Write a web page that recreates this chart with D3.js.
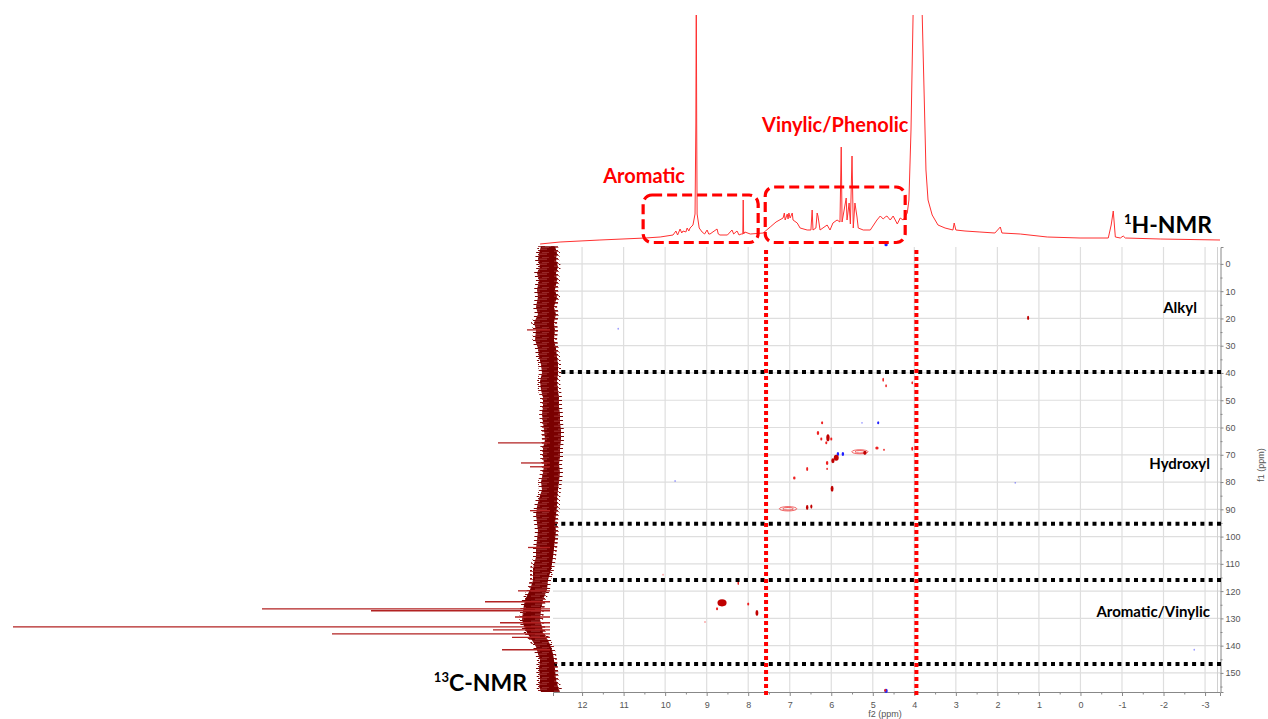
<!DOCTYPE html>
<html lang="en">
<head>
<meta charset="UTF-8">
<title>HSQC with 1H and 13C projections</title>
<script src="https://cdn.jsdelivr.net/npm/d3@7/dist/d3.min.js"></script>
<style>
  body { margin: 0; background: #fff; }
  svg { display: block; }
  .tick text { font-family: "Liberation Sans", Arial, sans-serif; font-size: 9px; fill: #555; }
  .tick line, .domain { stroke: #888; }
</style>
</head>
<body>
<script>
// axis ticks (ppm)
const f2Ticks = d3.range(12, -4, -1);
const f1Ticks = d3.range(0, 151, 10);

// 1H projection on top: [ppm, intensity]
const hSpectrum = [
  [13.01, 0], [12.53, 2], [11.57, 4], [10.48, 6], [10.12, 7], [9.81, 9], [9.74, 13], [9.70, 9],
  [9.64, 15], [9.60, 11], [9.57, 13], [9.50, 12], [9.47, 16], [9.43, 13], [9.40, 16], [9.33, 19],
  [9.28, 30], [9.26, 120], [9.25, 260], [9.24, 120], [9.23, 30], [9.18, 16], [9.11, 12], [9.05, 10],
  [8.99, 14], [8.95, 10], [8.92, 10], [8.75, 15], [8.72, 10], [8.68, 9], [8.50, 9], [8.39, 14],
  [8.35, 10], [8.27, 13], [8.22, 9], [8.17, 10], [8.13, 10], [8.12, 44], [8.11, 10], [8.08, 12],
  [7.95, 10], [7.64, 11], [7.47, 17], [7.33, 22], [7.16, 26], [7.13, 31], [7.11, 24], [7.06, 30],
  [7.04, 25], [7.02, 31], [6.99, 26], [6.94, 31], [6.92, 24], [6.82, 21], [6.75, 16], [6.58, 14],
  [6.49, 14], [6.46, 34], [6.44, 14], [6.37, 16], [6.34, 31], [6.32, 28], [6.27, 14], [6.10, 19],
  [6.03, 14], [5.96, 21], [5.86, 24], [5.79, 22], [5.76, 97], [5.74, 22], [5.64, 46], [5.62, 24],
  [5.57, 41], [5.54, 20], [5.50, 88], [5.47, 16], [5.43, 41], [5.38, 27], [5.35, 16], [5.23, 14],
  [5.06, 14], [4.90, 24], [4.82, 28], [4.75, 25], [4.70, 27], [4.66, 28], [4.58, 24], [4.51, 28],
  [4.41, 20], [4.34, 26], [4.27, 24], [4.17, 31], [4.13, 44], [4.08, 114], [4.05, 184], [4.03, 229],
  [3.93, 300], [3.81, 229], [3.76, 144], [3.72, 74], [3.67, 44], [3.57, 29], [3.43, 19], [3.26, 16],
  [3.07, 14], [3.04, 21], [3.00, 14], [2.78, 13], [2.42, 12], [2.06, 11], [1.93, 17], [1.89, 11],
  [1.45, 10], [0.80, 7], [0.01, 6], [-0.67, 6], [-0.74, 19], [-0.79, 33], [-0.84, 7], [-0.96, 6],
  [-1.03, 8], [-1.08, 6], [-1.92, 5], [-3.36, 4]
];

// 13C projection on the left: noise band [ppm, outer, inner] and sharp lines [ppm, intensity]
const cNoise = [
  [-6.5, 19, 5], [-4, 21, 3], [-1.5, 22, 4], [1, 20, 2], [3.3, 23, 4], [6, 21, 3], [9.5, 23, 5],
  [12, 22, 3], [15.8, 24, 6], [18.5, 22, 4], [21.6, 26, 6], [24.2, 24, 5], [27.9, 25, 6], [31, 22, 4],
  [34.1, 21, 3], [37, 19, 2], [40, 18, 2], [43, 20, 3], [46.2, 19, 2], [49, 17, 1], [52.4, 17, 1],
  [55, 18, 0], [58.3, 17, 0], [61, 16, -1], [64.5, 15, -1], [67.5, 17, 0], [70.7, 17, 0], [73.5, 16, 1],
  [76.6, 17, 0], [80, 19, 1], [82.9, 18, 2], [86, 21, 3], [89.1, 23, 3], [92, 24, 4], [95, 23, 5],
  [98, 22, 4], [101.2, 23, 5], [104.5, 24, 6], [107.5, 24, 7], [110, 26, 8], [112.2, 27, 9],
  [115.9, 27, 12], [119.5, 30, 13], [123.2, 35, 17], [127, 37, 19], [130.5, 38, 20], [133, 36, 18],
  [135.3, 33, 17], [138, 28, 12], [140.4, 24, 9], [143, 22, 7], [145.2, 20, 6], [148.5, 21, 5],
  [152.5, 20, 4], [155, 21, 2], [157, 19, 0]
];
const cLines = [
  [24.2, 33], [65.6, 62], [73.0, 39], [74.4, 30], [90.5, 30], [104, 32], [119.9, 42], [123.9, 75],
  [126.5, 298], [127.2, 189], [129.5, 45], [131.6, 60], [133.1, 547], [134.2, 67], [135.7, 228],
  [137, 48], [141.5, 58]
];

// cross peaks: [f2 ppm, f1 ppm, f2 width, f1 width, phase, level]
const crossPeaks = [
  [6.22, 58.3, 0.05, 1.1, 1, 2], [6.32, 62.0, 0.06, 1.5, 1, 2], [6.24, 64.2, 0.05, 1.1, 1, 2],
  [6.08, 63.8, 0.08, 2.6, 1, 3], [6.12, 65.6, 0.05, 1.1, 1, 2], [6.00, 64.2, 0.05, 1.1, 1, 2],
  [5.26, 58.3, 0.03, 0.7, -1, 1], [4.87, 58.3, 0.05, 1.1, -1, 2], [5.84, 69.7, 0.06, 1.5, -1, 2],
  [5.72, 69.7, 0.06, 1.5, -1, 2], [5.88, 71.1, 0.12, 2.2, 1, 3], [5.96, 72.2, 0.08, 1.8, 1, 3],
  [6.10, 73.0, 0.06, 1.5, 1, 2], [6.10, 75.2, 0.04, 0.8, 1, 2], [6.58, 75.2, 0.05, 1.5, 1, 2],
  [6.89, 78.5, 0.06, 1.1, 1, 2], [5.98, 82.5, 0.07, 2.2, 1, 3], [5.31, 68.9, 0.39, 1.5, 1, 0],
  [5.19, 69.3, 0.08, 1.5, 1, 3], [4.90, 67.5, 0.08, 1.1, 1, 2], [4.73, 68.2, 0.04, 0.8, 1, 2],
  [4.05, 67.8, 0.05, 1.5, 1, 2], [7.04, 89.8, 0.42, 1.6, 1, 0], [6.58, 89.3, 0.06, 1.8, 1, 3],
  [6.48, 89.0, 0.05, 1.5, 1, 3], [4.75, 42.5, 0.04, 1.5, 1, 2], [4.68, 44.7, 0.04, 1.1, 1, 2],
  [4.05, 43.6, 0.04, 1.1, 1, 2], [1.26, 19.8, 0.05, 1.5, 1, 3], [11.13, 23.8, 0.03, 0.7, -1, 1],
  [9.76, 79.6, 0.03, 0.7, -1, 1], [1.57, 80.3, 0.03, 0.7, -1, 1], [-2.74, 141.5, 0.03, 0.7, -1, 1],
  [10.05, 114.0, 0.03, 0.7, 1, 1], [8.24, 117.0, 0.04, 1.5, 1, 2], [8.63, 124.3, 0.22, 2.6, 1, 3],
  [8.75, 126.5, 0.05, 1.1, 1, 2], [8.00, 124.7, 0.05, 1.1, 1, 2], [7.79, 128.0, 0.07, 2.2, 1, 3],
  [9.04, 131.3, 0.03, 0.7, 1, 1], [4.68, 156.6, 0.08, 1.5, -1, 2], [4.70, 156.4, 0.05, 1.1, 1, 2],
  [4.68, -7.0, 0.08, 1.1, -1, 2]
];

// region dividers and names
const f1Dividers = [39.6, 95.3, 115.9, 146.7];
const f2Dividers = [7.57, 3.95];
const regionNames = ["Alkyl", "Hydroxyl", "Aromatic/Vinylic"];
const regionLabelF1 = [18, 75.2, 129.4];
const hRegionNames = ["Aromatic", "Vinylic/Phenolic"];
const hRegionRanges = [[10.53, 7.76], [7.59, 4.22]];
const hRegionTops = [49, 57];

const width = 1268, height = 719;
const svg = d3.select("body").append("svg")
  .attr("width", width)
  .attr("height", height);

// scales
const x = d3.scaleLinear().domain([12.7, -3.36]).range([553, 1220]);
const y = d3.scaleLinear().domain([-6.2, 157]).range([247, 692]);
const hY = d3.scaleLinear().domain([0, 229]).range([244, 15]);
const cX = d3.scaleLinear().domain([0, 547]).range([560, 13]);

const defs = svg.append("defs");
defs.append("clipPath").attr("id", "hclip")
  .append("rect").attr("x", 0).attr("y", 15).attr("width", width).attr("height", 240);

// texture for the noisy 13C trace
const pat = defs.append("pattern").attr("id", "noise")
  .attr("patternUnits", "userSpaceOnUse").attr("width", 23).attr("height", 5);
pat.append("rect").attr("width", 23).attr("height", 5).attr("fill", "#7a0000");
pat.append("rect").attr("x", 2).attr("y", 0.8).attr("width", 9).attr("height", 0.6).attr("fill", "#b65050");
pat.append("rect").attr("x", 13).attr("y", 2.2).attr("width", 7).attr("height", 0.6).attr("fill", "#a84040");
pat.append("rect").attr("x", 6).attr("y", 3.8).attr("width", 12).attr("height", 0.6).attr("fill", "#bb5a5a");
const fringe = defs.append("pattern").attr("id", "fringe")
  .attr("patternUnits", "userSpaceOnUse").attr("width", 13).attr("height", 4);
fringe.append("rect").attr("x", 0).attr("y", 0).attr("width", 6).attr("height", 1).attr("fill", "#7a0000");
fringe.append("rect").attr("x", 5).attr("y", 2).attr("width", 7).attr("height", 1).attr("fill", "#8c1010");
fringe.append("rect").attr("x", 9).attr("y", 3).attr("width", 4).attr("height", 0.8).attr("fill", "#a03030");

// grid
const grid = svg.append("g");
grid.selectAll(".vg").data(f2Ticks).enter().append("line")
  .attr("x1", d => x(d)).attr("x2", d => x(d))
  .attr("y1", y.range()[0]).attr("y2", y.range()[1])
  .attr("stroke", "#dedede").attr("stroke-width", 1.2);
grid.selectAll(".hg").data(f1Ticks).enter().append("line")
  .attr("x1", x.range()[0]).attr("x2", x.range()[1])
  .attr("y1", d => y(d)).attr("y2", d => y(d))
  .attr("stroke", "#dedede").attr("stroke-width", 1.2);
grid.append("line")
  .attr("x1", x.range()[1] - 2.5).attr("x2", x.range()[1] - 2.5)
  .attr("y1", y.range()[0]).attr("y2", y.range()[1])
  .attr("stroke", "#d0d0d0");

// axes
svg.append("g").attr("transform", `translate(0,${y.range()[1]})`)
  .call(d3.axisBottom(x).tickValues(f2Ticks).tickSize(4).tickPadding(6).tickFormat(d => String(d)));
svg.append("g").attr("transform", `translate(0,${y.range()[1]})`)
  .call(d3.axisBottom(x).tickValues(f2Ticks.slice(0, -1).map(d => d - 0.5)).tickSize(2.5).tickFormat(""))
  .select(".domain").remove();
svg.append("g").attr("transform", `translate(${x.range()[1] + 0.5},0)`)
  .call(d3.axisRight(y).tickValues(f1Ticks).tickSize(3).tickPadding(2).tickFormat(d => String(d)));
svg.append("g").attr("transform", `translate(${x.range()[1] + 0.5},0)`)
  .call(d3.axisRight(y).tickValues(f1Ticks.map(d => d + 5)).tickSize(2).tickFormat(""))
  .select(".domain").remove();

svg.append("text")
  .attr("x", 885).attr("y", 717)
  .attr("text-anchor", "middle")
  .style("font-family", "Liberation Sans, Arial, sans-serif")
  .style("font-size", "9px").attr("fill", "#555")
  .text("f2 (ppm)");
svg.append("text")
  .attr("transform", "translate(1264,465) rotate(-90)")
  .attr("text-anchor", "middle")
  .style("font-family", "Liberation Sans, Arial, sans-serif")
  .style("font-size", "9px").attr("fill", "#555")
  .text("f1 (ppm)");

// cross peaks
const peakColor = d => d[4] > 0 ? (d[5] >= 3 ? "#c00000" : "#ee2020") : "#2020ff";
const peaks = svg.append("g");
crossPeaks.forEach(d => {
  const rx = Math.abs(x(d[0] + d[2] / 2) - x(d[0] - d[2] / 2)) / 2;
  const ry = Math.abs(y(d[1] + d[3] / 2) - y(d[1] - d[3] / 2)) / 2;
  if (d[5] === 0) {
    [1, 0.6].forEach(k => {
      peaks.append("ellipse")
        .attr("cx", x(d[0])).attr("cy", y(d[1]))
        .attr("rx", rx * k).attr("ry", ry * k)
        .attr("fill", "none").attr("stroke", "#ee4040").attr("stroke-width", 0.8);
    });
  } else {
    peaks.append("ellipse")
      .attr("cx", x(d[0])).attr("cy", y(d[1]))
      .attr("rx", Math.max(rx, 0.8)).attr("ry", Math.max(ry, 0.8))
      .attr("fill", peakColor(d))
      .attr("opacity", d[5] === 1 ? 0.45 : 1);
  }
});

// black dotted region dividers
svg.selectAll(".hdiv").data(f1Dividers).enter().append("line")
  .attr("x1", x.range()[0]).attr("x2", x.range()[1] + 1)
  .attr("y1", d => y(d)).attr("y2", d => y(d))
  .attr("stroke", "#000").attr("stroke-width", 4).attr("stroke-dasharray", "4,4.3");

// red dotted dividers
svg.selectAll(".vdiv").data(f2Dividers).enter().append("line")
  .attr("x1", d => x(d)).attr("x2", d => x(d))
  .attr("y1", 250).attr("y2", 695)
  .attr("stroke", "#ff0000").attr("stroke-width", 4).attr("stroke-dasharray", "4,3");

// 13C projection
svg.append("path").datum(cNoise)
  .attr("d", d3.area().y(d => y(d[0])).x0(d => cX(d[2] - 3)).x1(d => cX(d[1] + 3)))
  .attr("fill", "url(#fringe)");
svg.append("path").datum(cNoise)
  .attr("d", d3.area().y(d => y(d[0])).x0(d => cX(d[2])).x1(d => cX(d[1])))
  .attr("fill", "url(#noise)");
svg.selectAll(".cline").data(cLines).enter().append("line")
  .attr("x1", cX(10)).attr("x2", d => cX(d[1]))
  .attr("y1", d => y(d[0])).attr("y2", d => y(d[0]))
  .attr("stroke", "#b22222").attr("stroke-width", 1.3);

// 1H projection
const hLine = d3.line().x(d => x(d[0])).y(d => hY(d[1]));
svg.append("path").datum(hSpectrum)
  .attr("clip-path", "url(#hclip)")
  .attr("d", hLine)
  .attr("fill", "none").attr("stroke", "#ff3030").attr("stroke-width", 1);

// 1H region boxes and labels
hRegionRanges.forEach((r, i) => {
  const x0 = x(r[0]), x1 = x(r[1]);
  const top = hY(hRegionTops[i]);
  svg.append("rect")
    .attr("x", x0).attr("y", top)
    .attr("width", x1 - x0).attr("height", hY(1.5) - top)
    .attr("rx", 9).attr("ry", 9)
    .attr("fill", "none").attr("stroke", "#ff0000")
    .attr("stroke-width", 3.2).attr("stroke-dasharray", "10,5");
});
const labelFont = "Lato, 'Open Sans', sans-serif";
svg.append("text")
  .attr("x", x(hRegionRanges[0][0]) + 1).attr("y", 183)
  .attr("text-anchor", "middle")
  .style("font-family", labelFont).style("font-weight", "bold").style("font-size", "20px")
  .attr("fill", "#ff0000").text(hRegionNames[0]);
svg.append("text")
  .attr("x", (x(hRegionRanges[1][0]) + x(hRegionRanges[1][1])) / 2).attr("y", 132)
  .attr("text-anchor", "middle")
  .style("font-family", labelFont).style("font-weight", "bold").style("font-size", "20px")
  .attr("fill", "#ff0000").text(hRegionNames[1]);

// f1 region labels
svg.selectAll(".rlab").data(regionNames).enter().append("text")
  .attr("x", (d, i) => i === 0 ? 1197 : 1210)
  .attr("y", (d, i) => y(regionLabelF1[i]))
  .attr("text-anchor", "end")
  .style("font-family", labelFont).style("font-weight", "bold").style("font-size", "15px")
  .attr("fill", "#000").text(d => d);

// spectrum titles
const hTitle = svg.append("text")
  .attr("x", 1212).attr("y", 233).attr("text-anchor", "end")
  .style("font-family", labelFont).style("font-weight", "bold").style("font-size", "23px")
  .attr("fill", "#000");
hTitle.append("tspan").attr("dy", -9).style("font-size", "13px").text("1");
hTitle.append("tspan").attr("dy", 9).text("H-NMR");
const cTitle = svg.append("text")
  .attr("x", 527).attr("y", 691).attr("text-anchor", "end")
  .style("font-family", labelFont).style("font-weight", "bold").style("font-size", "23px")
  .attr("fill", "#000");
cTitle.append("tspan").attr("dy", -9).style("font-size", "13px").text("13");
cTitle.append("tspan").attr("dy", 9).text("C-NMR");
</script>
</body>
</html>
